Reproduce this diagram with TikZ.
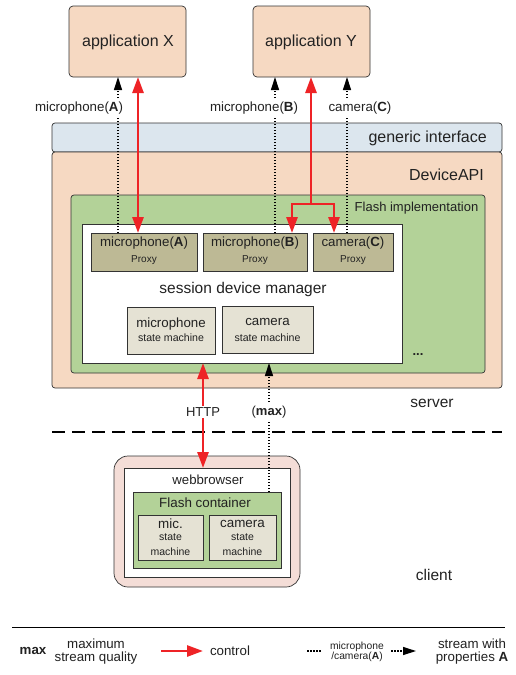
\documentclass[tikz,border=0pt]{standalone}
\usepackage{fontspec}
\setmainfont{Liberation Sans}
\usetikzlibrary{arrows.meta,calc}

\definecolor{peach}{HTML}{F6D9C2}
\definecolor{ifblue}{HTML}{DCE6EE}
\definecolor{flashgreen}{HTML}{B3D298}
\definecolor{proxyfill}{HTML}{BDB995}
\definecolor{smfill}{HTML}{E5E2D4}
\definecolor{wbpink}{HTML}{F4DDD7}
\definecolor{ctrlred}{HTML}{EE2326}
\definecolor{edge}{HTML}{333333}
\definecolor{ink}{HTML}{222222}

\newcommand\fsz[1]{\fontsize{#1}{#1}\selectfont}

\tikzset{
  box/.style={draw=edge, line width=0.7pt, inner sep=0pt, outer sep=0pt},
  txt/.style={inner sep=0pt, text=ink},
  lbl/.style={inner sep=1.5pt, fill=white, text=ink},
  redhead/.tip={Triangle[length=16pt,width=11pt]},
  blackhead/.tip={Triangle[length=13pt,width=8pt]},
  ctrlline/.style={draw=ctrlred, line width=2.7pt},
  ctrlboth/.style={ctrlline, redhead-redhead},
  ctrlup/.style={ctrlline, -redhead},
  stream/.style={draw=black, line width=1.2pt, dash pattern=on 1.5pt off 1.5pt},
  streamto/.style={stream, -blackhead},
}

\begin{document}
\begin{tikzpicture}[x=1pt,y=-1pt]
\useasboundingbox[fill=white] (0,0) rectangle (515,675);

% applications
\node[box, fill=peach, rounded corners=4pt, minimum width=117pt, minimum height=71pt] (appX) at (127.5,41.5) {};
\node[txt, font=\fsz{16}] (appXt) at (128,42) {application X};
\node[box, fill=peach, rounded corners=4pt, minimum width=117pt, minimum height=71pt] (appY) at (311.5,41.5) {};
\node[txt, font=\fsz{16}] (appYt) at (311,42) {application Y};

% server side: generic interface and DeviceAPI
\node[box, fill=ifblue, rounded corners=3pt, minimum width=450pt, minimum height=29pt] (gi) at (277,137.5) {};
\node[txt, font=\fsz{16}, anchor=east] (git) at (487,138) {generic interface};
\node[box, fill=peach, rounded corners=3pt, minimum width=450pt, minimum height=236pt] (dapi) at (277,270) {};
\node[txt, font=\fsz{16}, anchor=east] (dapit) at (484,175) {DeviceAPI};

% Flash implementation
\node[box, fill=flashgreen, rounded corners=3pt, minimum width=414pt, minimum height=178pt] (flash) at (278,284) {};
\node[txt, font=\fsz{13}] (flasht) at (416.5,208) {Flash implementation};
\node[txt, font=\bfseries\fsz{13}] (dots) at (418,355) {...};

% session device manager
\node[box, fill=white, minimum width=320pt, minimum height=139pt] (sdm) at (242,293.5) {};
\node[txt, font=\fsz{15.5}] (sdmt) at (243,289) {session device manager};

% proxies
\node[box, fill=proxyfill, minimum width=106pt, minimum height=38pt] (pxA) at (144,252) {};
\node[txt, font=\fsz{13.3}] (pxAa) at (144,243) {microphone(\textbf{A})};
\node[txt, font=\fsz{10}] (pxAb) at (144,260) {Proxy};
\node[box, fill=proxyfill, minimum width=104pt, minimum height=38pt] (pxB) at (255,252) {};
\node[txt, font=\fsz{13.3}] (pxBa) at (255,243) {microphone(\textbf{B})};
\node[txt, font=\fsz{10}] (pxBb) at (255,260) {Proxy};
\node[box, fill=proxyfill, minimum width=80pt, minimum height=38pt] (pxC) at (353,252) {};
\node[txt, font=\fsz{13.3}] (pxCa) at (353,243) {camera(\textbf{C})};
\node[txt, font=\fsz{10}] (pxCb) at (353,260) {Proxy};

% state machines
\node[box, fill=smfill, minimum width=88pt, minimum height=47pt] (smMic) at (171,330.5) {};
\node[txt, font=\fsz{13.3}] (smMica) at (171,324) {microphone};
\node[txt, font=\fsz{10.6}] (smMicb) at (171,338) {state machine};
\node[box, fill=smfill, minimum width=91pt, minimum height=47pt] (smCam) at (267.5,329.5) {};
\node[txt, font=\fsz{13.3}] (smCama) at (267.5,322) {camera};
\node[txt, font=\fsz{10.6}] (smCamb) at (267.5,338) {state machine};

% server / client separation
\node[txt, font=\fsz{15.5}] (servert) at (432,403) {server};
\node[txt, font=\fsz{15.5}] (clientt) at (434,575) {client};
\coordinate (sepL) at (52,432);
\coordinate (sepR) at (502,432);
\draw[black, line width=1.3pt, dash pattern=on 13pt off 7pt] (sepL) -- (sepR);

% client: webbrowser
\node[box, fill=wbpink, rounded corners=14pt, minimum width=186pt, minimum height=131pt] (wbo) at (207,521.5) {};
\node[box, fill=white, minimum width=166pt, minimum height=109pt] (wbi) at (207,522.5) {};
\node[txt, font=\fsz{13.2}] (wbt) at (208,480) {webbrowser};
\node[box, fill=flashgreen, minimum width=148pt, minimum height=76pt] (fc) at (207,530) {};
\node[txt, font=\fsz{13.4}] (fct) at (205,503) {Flash container};
\node[box, fill=smfill, minimum width=65pt, minimum height=45pt] (csMic) at (170.5,537.5) {};
\node[txt, font=\fsz{13.4}] (csMica) at (170.5,524) {mic.};
\node[txt, font=\fsz{10.5}] (csMicb) at (170.5,537) {state};
\node[txt, font=\fsz{10.5}] (csMicc) at (170.5,552) {machine};
\node[box, fill=smfill, minimum width=67pt, minimum height=45pt] (csCam) at (242.5,537.5) {};
\node[txt, font=\fsz{13.4}] (csCama) at (242.5,524) {camera};
\node[txt, font=\fsz{10.5}] (csCamb) at (242.5,537) {state};
\node[txt, font=\fsz{10.5}] (csCamc) at (242.5,552) {machine};

% connector columns
\coordinate (xA) at (118,0);
\coordinate (xRA) at (138,0);
\coordinate (xB) at (275,0);
\coordinate (xRY) at (311,0);
\coordinate (xC) at (347,0);
\coordinate (xFL) at (292,0);
\coordinate (xFR) at (334,0);
\coordinate (fork) at (311,204);
\coordinate (xH) at (203,0);
\coordinate (xM) at (269,0);

% streams towards the applications
\draw[streamto] (pxA.north -| xA) -- (appX.south -| xA);
\draw[streamto] (pxB.north -| xB) -- (appY.south -| xB);
\draw[streamto] (pxC.north -| xC) -- (appY.south -| xC);
\node[lbl, font=\fsz{13.3}] (lA) at (79,108) {microphone(\textbf{A})};
\node[lbl, font=\fsz{13.3}] (lB) at (254,108) {microphone(\textbf{B})};
\node[lbl, font=\fsz{13.3}] (lC) at (360,108) {camera(\textbf{C})};

% control between applications and proxies
\draw[ctrlboth] (pxA.north -| xRA) -- (appX.south -| xRA);
\draw[ctrlup] (fork) -- (appY.south -| xRY);
\draw[ctrlboth] (pxB.north -| xFL) -- (xFL |- fork) -- (xFR |- fork) -- (pxC.north -| xFR);

% client to server
\draw[ctrlboth] (wbi.north -| xH) -- (sdm.south -| xH);
\draw[streamto] (fc.north -| xM) -- (sdm.south -| xM);
\node[lbl, font=\fsz{13}] (lHttp) at (203,412) {HTTP};
\node[lbl, font=\fsz{13}] (lMax) at (269,412) {(\textbf{max})};

% legend
\coordinate (legL) at (12,627);
\coordinate (legR) at (505,627);
\draw[black, line width=0.9pt] (legL) -- (legR);
\node[txt, font=\bfseries\fsz{13.3}] (kMax) at (33,651) {max};
\node[txt, font=\fsz{13.3}, align=center] (kMaxT) at (96,651.5) {\fontsize{13.3}{15}\selectfont maximum\\stream quality};
\coordinate (kCtrlA) at (161,651);
\coordinate (kCtrlB) at (203,651);
\draw[ctrlup] (kCtrlA) -- (kCtrlB);
\node[txt, font=\fsz{13.3}] (kCtrlT) at (230,651) {control};
\coordinate (kDotA) at (307,651);
\coordinate (kDotB) at (322,651);
\draw[stream] (kDotA) -- (kDotB);
\node[txt, font=\fsz{10.3}, align=center] (kDevT) at (357,651.5) {\fontsize{10.3}{15}\selectfont microphone\\/camera(\textbf{A})};
\coordinate (kStrA) at (391,651);
\coordinate (kStrB) at (416,651);
\draw[streamto] (kStrA) -- (kStrB);
\node[txt, font=\fsz{13.3}, align=center] (kStrT) at (472,651.5) {\fontsize{13.3}{15}\selectfont stream with\\properties \textbf{A}};
\end{tikzpicture}
\end{document}
